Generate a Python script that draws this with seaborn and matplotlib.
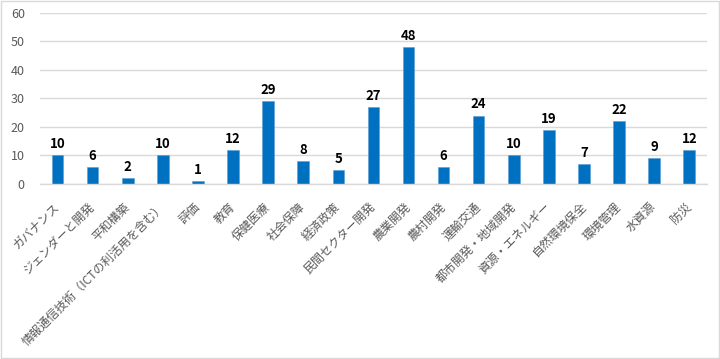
import matplotlib
matplotlib.use("Agg")
import matplotlib.pyplot as plt
import seaborn as sns
import pandas as pd

categories = ["ガバナンス", "ジェンダーと開発", "平和構築", "情報通信技術（ICTの利活用を含む）",
              "評価", "教育", "保健医療", "社会保障", "経済政策", "民間セクター開発",
              "農業開発", "農村開発", "運輸交通", "都市開発・地域開発", "資源・エネルギー",
              "自然環境保全", "環境管理", "水資源", "防災"]
values = [10, 6, 2, 10, 1, 12, 29, 8, 5, 27, 48, 6, 24, 10, 19, 7, 22, 9, 12]
yticks = [0, 10, 20, 30, 40, 50, 60]

sns.set_theme(style="white")
plt.rcParams['font.family'] = ['Noto Sans CJK JP', 'DejaVu Sans']

df = pd.DataFrame({"cat": categories, "val": values})

fig = plt.figure(figsize=(7.2, 3.59), dpi=100)
ax = fig.add_axes([0.0556, 0.4875, 0.926, 0.4763])
sns.barplot(data=df, x="cat", y="val", color="#0070C0", width=0.33, ax=ax,
            saturation=1, edgecolor="#5B9BD5", linewidth=0.4)
ax.set_ylim(0, 60)
ax.set_yticks(yticks)
ax.set_xlim(-0.5, len(categories) - 0.5)
ax.yaxis.grid(True, color="#D9D9D9", linewidth=1)
ax.set_axisbelow(True)
for s in ["top", "right", "left"]:
    ax.spines[s].set_visible(False)
ax.spines["bottom"].set_color("#D9D9D9")
ax.spines["bottom"].set_linewidth(1)
ax.set_xlabel("")
ax.set_ylabel("")
ax.tick_params(axis="y", colors="#595959", labelsize=9, length=0, pad=11)
ax.tick_params(axis="x", colors="#595959", labelsize=8.6, length=0, pad=15)
plt.setp(ax.get_xticklabels(), rotation=45, ha="right", va="center",
         rotation_mode="anchor")
for c in ax.containers:
    ax.bar_label(c, labels=[str(v) for v in values], padding=3,
                 fontsize=9.5, fontweight="bold", color="black")

fig.patches.append(plt.Rectangle((0.001, 0.002), 0.997, 0.995, transform=fig.transFigure,
                                 fill=False, edgecolor="#D9D9D9", linewidth=1))
fig.savefig("out.png", dpi=100)
